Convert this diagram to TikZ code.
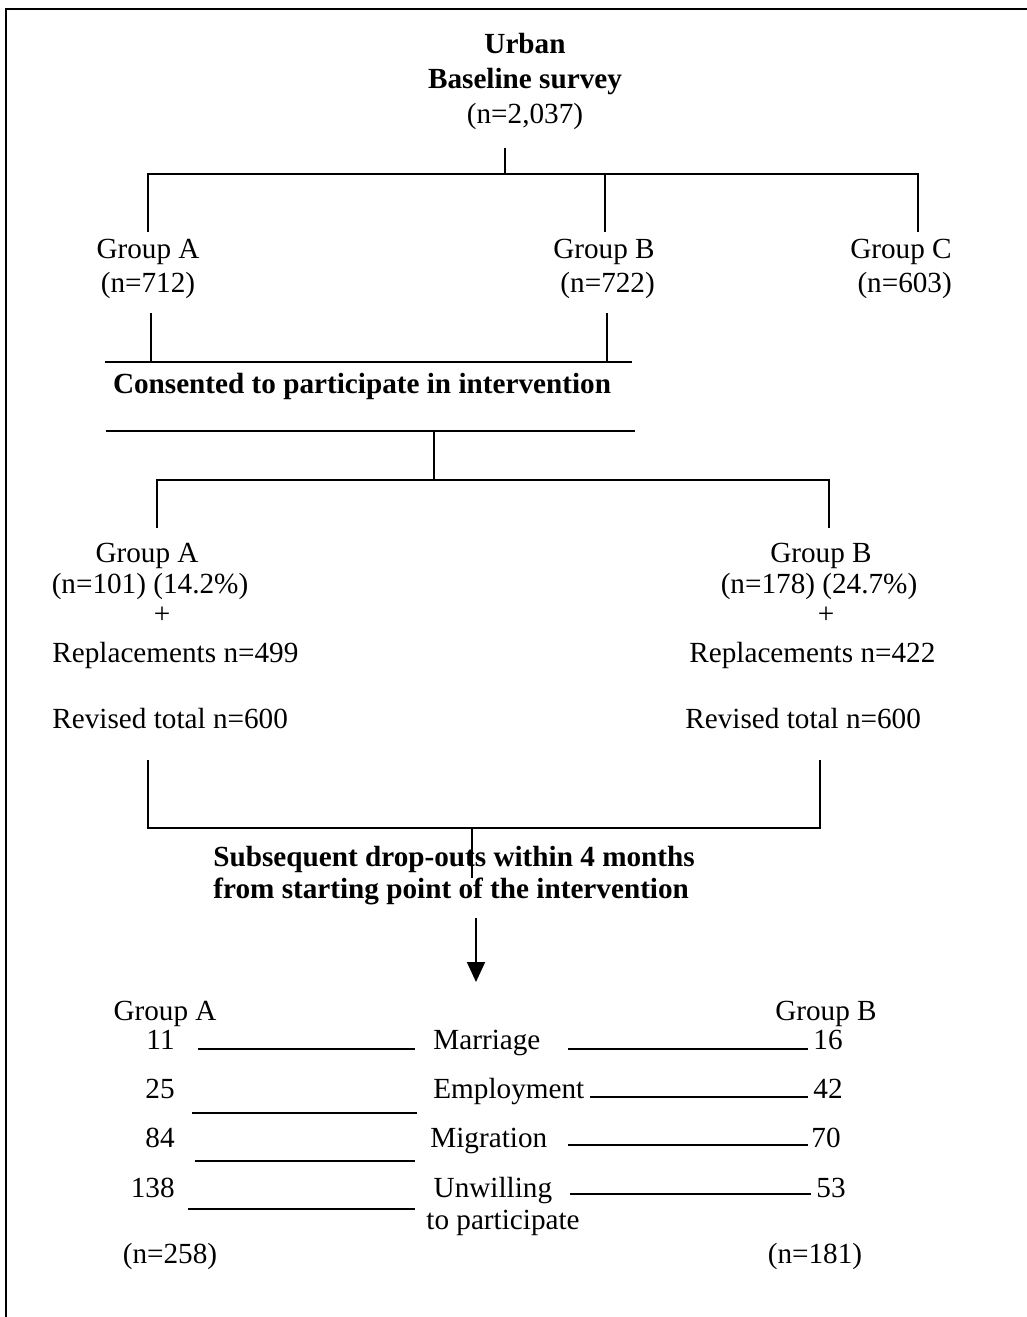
\documentclass[tikz,border=0pt]{standalone}
\usepackage{fontspec}
\setmainfont{Liberation Serif}
\usetikzlibrary{arrows.meta}

\begin{document}
\begin{tikzpicture}[
    x=0.5pt,y=-0.5pt,
    txt/.style={inner sep=0pt,font=\fontsize{14.6}{17}\selectfont},
    bold/.style={inner sep=0pt,font=\fontsize{14.6}{17.5}\selectfont\bfseries},
    link/.style={line width=0.9pt},
    frame/.style={line width=1pt},
    arrow/.style={line width=0.9pt,-{Triangle[length=10pt,width=9pt]}}
  ]
    \useasboundingbox (0,0) rectangle (1027,1317);
    \draw[frame] (6,1317) -- (6,9) -- (1027,9);

    % baseline survey and its three groups
    \node[bold,align=center,anchor=base] (survey) at (525,123) {Urban\\Baseline survey\\\mdseries(n=2,037)};
    \node[txt,align=center,anchor=base] (grpA) at (148,292) {Group A\\(n=712)};
    \node[txt,align=center,anchor=base] (grpB) at (604,292) {Group B\\\ (n=722)};
    \node[txt,align=center,anchor=base] (grpC) at (901,292) {Group C\\\ (n=603)};
    \coordinate (s0) at (505,148);
    \coordinate (s1) at (505,174);
    \coordinate (a1) at (148,232);
    \coordinate (b1) at (605,232);
    \coordinate (c1) at (918,232);
    \draw[link] (s0) -- (s1);
    \draw[link] (a1) |- (s1) -| (c1);
    \draw[link] (b1) -- (b1 |- s1);

    % consent
    \node[bold,anchor=base] (consent) at (362,393) {Consented to participate in intervention};
    \coordinate (cl) at (105,362);
    \coordinate (cr) at (632,362);
    \coordinate (a2) at (151,313);
    \coordinate (b2) at (607,313);
    \draw[link] (cl) -- (cr);
    \draw[link] (a2) -- (a2 |- cl);
    \draw[link] (b2) -- (b2 |- cl);
    \coordinate (dl) at (106,431);
    \coordinate (dr) at (635,431);
    \coordinate (d0) at (434,431);
    \coordinate (s2) at (434,480);
    \coordinate (a3) at (157,528);
    \coordinate (b3) at (829,528);
    \draw[link] (dl) -- (dr);
    \draw[link] (d0) -- (s2);
    \draw[link] (a3) |- (s2) -| (b3);

    % intervention groups
    \node[txt,anchor=base] (grpA2) at (147,562) {Group A};
    \node[txt,anchor=base] (pctA) at (150,593) {(n=101) (14.2\%)};
    \node[txt,anchor=base] (plusA) at (162,623) {+};
    \node[txt,anchor=base west] (repA) at (52,662) {Replacements n=499};
    \node[txt,anchor=base west] (revA) at (52,728) {Revised total n=600};
    \node[txt,anchor=base] (grpB2) at (821,562) {Group B};
    \node[txt,anchor=base] (pctB) at (819,593) {(n=178) (24.7\%)};
    \node[txt,anchor=base] (plusB) at (826,623) {+};
    \node[txt,anchor=base west] (repB) at (689,662) {Replacements n=422};
    \node[txt,anchor=base west] (revB) at (685,728) {Revised total n=600};
    \coordinate (a4) at (148,760);
    \coordinate (b4) at (820,760);
    \coordinate (j4) at (472,828);
    \coordinate (j5) at (472,878);
    \draw[link] (a4) |- (j4) -| (b4);
    \draw[link] (j4) -- (j5);

    % drop-outs
    \node[bold,align=left,anchor=base west,font=\fontsize{14.6}{16}\selectfont\bfseries] (drop) at (213,898)
      {Subsequent drop-outs within 4 months\\from starting point of the intervention};
    \coordinate (r0) at (476,918);
    \coordinate (r1) at (476,982);
    \draw[arrow] (r0) -- (r1);

    \node[txt,anchor=base] (hdA) at (165,1020) {Group A};
    \node[txt,anchor=base] (hdB) at (826,1020) {Group B};
    \node[txt,anchor=base east] (mA) at (175,1049) {11};
    \node[txt,anchor=base east] (eA) at (175,1098) {25};
    \node[txt,anchor=base east] (gA) at (175,1147) {84};
    \node[txt,anchor=base east] (uA) at (175,1197) {138};
    \node[txt,anchor=base west] (marr) at (433,1049) {Marriage};
    \node[txt,anchor=base west] (empl) at (433,1098) {Employment};
    \node[txt,anchor=base west] (migr) at (430,1147) {Migration};
    \node[txt,align=left,anchor=base west,font=\fontsize{14.6}{16}\selectfont] (unw) at (426,1229) {\ Unwilling\\to participate};
    \node[txt,anchor=base west] (mB) at (813,1049) {16};
    \node[txt,anchor=base west] (eB) at (813,1098) {42};
    \node[txt,anchor=base west] (gB) at (811,1147) {70};
    \node[txt,anchor=base west] (uB) at (816,1197) {53};
    \node[txt,anchor=base] (totA) at (170,1263) {(n=258)};
    \node[txt,anchor=base] (totB) at (815,1263) {(n=181)};

    % leader lines
    \draw[link] (198,1049) -- (415,1049);
    \draw[link] (568,1049) -- (808,1049);
    \draw[link] (192,1113) -- (417,1113);
    \draw[link] (590,1097) -- (808,1097);
    \draw[link] (195,1161) -- (415,1161);
    \draw[link] (568,1145) -- (808,1145);
    \draw[link] (188,1209) -- (415,1209);
    \draw[link] (570,1194) -- (811,1194);
  \end{tikzpicture}
\end{document}
